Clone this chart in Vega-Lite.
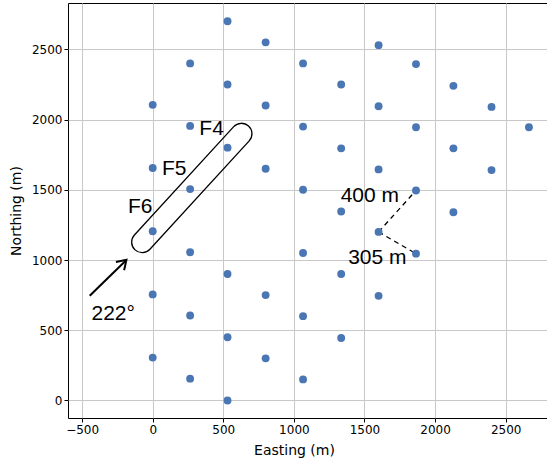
{
  "$schema": "https://vega.github.io/schema/vega-lite/v6.json",
  "width": 480,
  "height": 415,
  "autosize": {"type": "none"},
  "padding": {"left": 68, "top": 3, "right": 0, "bottom": 46},
  "background": "white",
  "config": {
    "view": {"stroke": "#000000", "strokeWidth": 1},
    "axis": {
      "domain": false,
      "grid": true,
      "gridColor": "#c8c8c8",
      "gridWidth": 1,
      "ticks": true,
      "tickColor": "#000000",
      "tickSize": 4,
      "tickWidth": 1,
      "labelFont": "DejaVu Sans",
      "labelFontSize": 12,
      "labelColor": "#000000",
      "labelPadding": 2,
      "labelFlush": false,
      "titleFont": "DejaVu Sans",
      "titleFontSize": 14,
      "titleFontWeight": "normal",
      "titleColor": "#000000"
    }
  },
  "datasets": {
    "turbines": [
      {"x": 0, "y": 2105}, {"x": 0, "y": 1655}, {"x": 0, "y": 1205}, {"x": 0, "y": 755}, {"x": 0, "y": 305},
      {"x": 265, "y": 2400}, {"x": 265, "y": 1955}, {"x": 265, "y": 1505}, {"x": 265, "y": 1055}, {"x": 265, "y": 605}, {"x": 265, "y": 155},
      {"x": 530, "y": 2700}, {"x": 530, "y": 2250}, {"x": 530, "y": 1800}, {"x": 530, "y": 900}, {"x": 530, "y": 450}, {"x": 530, "y": 0},
      {"x": 800, "y": 2550}, {"x": 800, "y": 2100}, {"x": 800, "y": 1650}, {"x": 800, "y": 750}, {"x": 800, "y": 300},
      {"x": 1065, "y": 2400}, {"x": 1065, "y": 1950}, {"x": 1065, "y": 1500}, {"x": 1065, "y": 1050}, {"x": 1065, "y": 600}, {"x": 1065, "y": 150},
      {"x": 1335, "y": 2250}, {"x": 1335, "y": 1795}, {"x": 1335, "y": 1345}, {"x": 1335, "y": 900}, {"x": 1335, "y": 445},
      {"x": 1600, "y": 2530}, {"x": 1600, "y": 2095}, {"x": 1600, "y": 1645}, {"x": 1600, "y": 1200}, {"x": 1600, "y": 745},
      {"x": 1865, "y": 2395}, {"x": 1865, "y": 1945}, {"x": 1865, "y": 1495}, {"x": 1865, "y": 1045},
      {"x": 2130, "y": 2240}, {"x": 2130, "y": 1795}, {"x": 2130, "y": 1340},
      {"x": 2400, "y": 2090}, {"x": 2400, "y": 1640},
      {"x": 2665, "y": 1945}
    ],
    "labels": [
      {"x": 417, "y": 1932, "label": "F4"},
      {"x": 152, "y": 1647, "label": "F5"},
      {"x": -88, "y": 1374, "label": "F6"},
      {"x": -280, "y": 617, "label": "222°"},
      {"x": 1538, "y": 1458, "label": "400 m"},
      {"x": 1591, "y": 1013, "label": "305 m"}
    ],
    "dashes": [
      {"x": 1600, "y": 1200, "x2": 1865, "y2": 1495},
      {"x": 1600, "y": 1200, "x2": 1865, "y2": 1045}
    ],
    "arrow": [
      {"x": -446, "y": 746, "x2": -190, "y2": 997}
    ],
    "arrowhead": [
      {"x": -186, "y": 1001}
    ],
    "stadium": [
      {"x": 277, "y": 1513}
    ]
  },
  "encoding": {
    "x": {
      "field": "x",
      "type": "quantitative",
      "scale": {"domain": [-600, 2800], "nice": false, "zero": false},
      "axis": {
        "title": "Easting (m)",
        "values": [-500, 0, 500, 1000, 1500, 2000, 2500],
        "format": "d",
        "titleX": 226,
        "titleAnchor": null,
        "titlePadding": 8
      }
    },
    "y": {
      "field": "y",
      "type": "quantitative",
      "scale": {"domain": [-125, 2830], "nice": false, "zero": false},
      "axis": {
        "title": "Northing (m)",
        "values": [0, 500, 1000, 1500, 2000, 2500],
        "format": "d",
        "titlePadding": 8
      }
    }
  },
  "layer": [
    {
      "data": {"name": "stadium"},
      "mark": {
        "type": "point",
        "filled": false,
        "shape": "M -0.875 -0.125 L 0.875 -0.125 C 0.944 -0.125 1 -0.069 1 0 C 1 0.069 0.944 0.125 0.875 0.125 L -0.875 0.125 C -0.944 0.125 -1 0.069 -1 0 C -1 -0.069 -0.944 -0.125 -0.875 -0.125 Z",
        "size": 28224,
        "angle": 312.5,
        "stroke": "#000000",
        "strokeWidth": 1.3,
        "opacity": 1
      }
    },
    {
      "data": {"name": "arrow"},
      "mark": {"type": "rule", "stroke": "#000000", "strokeWidth": 2},
      "encoding": {
        "x2": {"field": "x2"},
        "y2": {"field": "y2"}
      }
    },
    {
      "data": {"name": "arrowhead"},
      "mark": {
        "type": "point",
        "filled": false,
        "shape": "M -1 -0.65 L 0 0 L -1 0.65",
        "size": 324,
        "angle": 315.6,
        "stroke": "#000000",
        "strokeWidth": 2,
        "opacity": 1
      }
    },
    {
      "data": {"name": "dashes"},
      "mark": {"type": "rule", "stroke": "#000000", "strokeWidth": 1.3, "strokeDash": [5, 4]},
      "encoding": {
        "x2": {"field": "x2"},
        "y2": {"field": "y2"}
      }
    },
    {
      "data": {"name": "turbines"},
      "mark": {"type": "point", "filled": true, "size": 62, "color": "#4a76b4", "opacity": 1}
    },
    {
      "data": {"name": "labels"},
      "mark": {
        "type": "text",
        "font": "Liberation Sans",
        "fontSize": 21,
        "align": "center",
        "baseline": "middle",
        "color": "#000000"
      },
      "encoding": {
        "text": {"field": "label"}
      }
    }
  ]
}
